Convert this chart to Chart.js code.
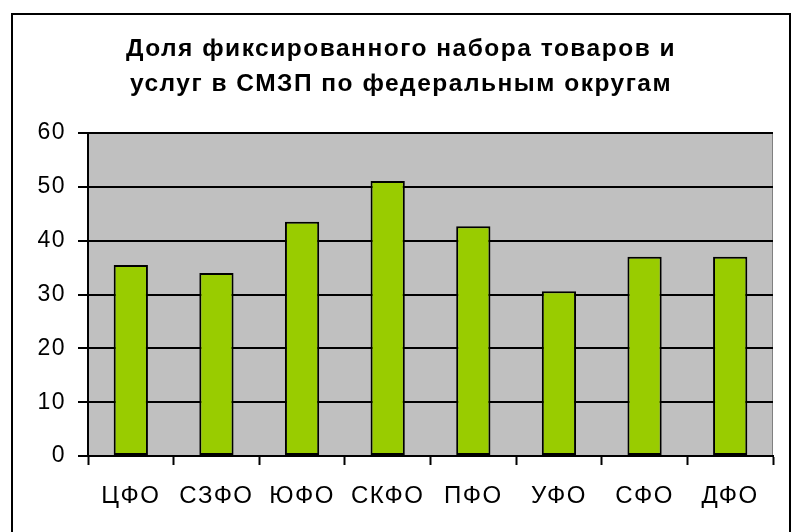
<!DOCTYPE html>
<html>
<head>
<meta charset="utf-8">
<script src="https://cdn.jsdelivr.net/npm/chart.js@4/dist/chart.umd.min.js"></script>
<style>
  html, body { margin: 0; padding: 0; background: #fff; }
  #wrap { width: 797px; height: 532px; }
</style>
</head>
<body>
<div id="wrap"><canvas id="chart" width="797" height="532"></canvas></div>
<script>
// --- Datos ---
const titleLines = ['Доля фиксированного набора товаров и', 'услуг в СМЗП по федеральным округам'];
const districts = ['ЦФО', 'СЗФО', 'ЮФО', 'СКФО', 'ПФО', 'УФО', 'СФО', 'ДФО'];
const shares = [35.5, 34.0, 43.5, 51.1, 42.7, 30.6, 37.0, 37.0];

const FONT = "'Liberation Sans', Arial, sans-serif";

// Fondo gris del área del gráfico + marco exterior
const frame = {
    id: 'frame',
    beforeDraw(chart) {
        const { ctx, chartArea: a } = chart;
        // el texto del original es algo más ancho: espaciado entre letras
        ctx.letterSpacing = '1.5px';
        ctx.save();
        ctx.fillStyle = '#c0c0c0';
        ctx.fillRect(a.left, a.top, a.right - a.left, a.bottom - a.top);
        ctx.strokeStyle = '#808080';
        ctx.lineWidth = 1;
        ctx.beginPath();
        ctx.moveTo(a.left, a.top + 0.5);
        ctx.lineTo(a.right - 0.5, a.top + 0.5);
        ctx.lineTo(a.right - 0.5, a.bottom);
        ctx.stroke();
        ctx.restore();
    },
    afterDraw(chart) {
        const { ctx } = chart;
        ctx.save();
        ctx.strokeStyle = '#000';
        ctx.lineWidth = 2;
        ctx.strokeRect(12, 14, 778, 530);
        ctx.restore();
    }
};

new Chart(document.getElementById('chart'), {
    type: 'bar',
    data: {
        labels: districts,
        datasets: [{
            data: shares,
            backgroundColor: '#99cc00',
            borderColor: '#000',
            borderWidth: 2,
            borderSkipped: false,
            barPercentage: 0.4,
            categoryPercentage: 1
        }]
    },
    options: {
        responsive: false,
        animation: false,
        // izquierda/derecha desiguales para centrar el título sobre el marco
        layout: { padding: { left: 29, right: 24, top: 0, bottom: 0 } },
        plugins: {
            legend: { display: false },
            tooltip: { enabled: false },
            title: {
                display: true,
                text: titleLines,
                color: '#000',
                font: { family: FONT, size: 24.5, weight: 'bold', lineHeight: 35 / 24.5 },
                padding: { top: 32, bottom: 31 }
            }
        },
        scales: {
            x: {
                afterFit: (s) => { s.height = 76; },
                grid: {
                    offset: true,
                    drawOnChartArea: false,
                    drawTicks: true,
                    tickLength: 9,
                    tickColor: '#000',
                    tickWidth: 2
                },
                border: { color: '#000', width: 2 },
                ticks: {
                    color: '#000',
                    padding: 17,
                    font: { family: FONT, size: 24 }
                }
            },
            y: {
                min: 0,
                max: 60,
                afterFit: (s) => { s.width = 59; },
                grid: {
                    color: '#000',
                    lineWidth: 2,
                    tickLength: 10,
                    tickColor: '#000',
                    tickWidth: 2
                },
                border: { color: '#000', width: 2 },
                ticks: {
                    stepSize: 10,
                    color: '#000',
                    padding: 12,
                    font: { family: FONT, size: 23 }
                }
            }
        }
    },
    plugins: [frame]
});
</script>
</body>
</html>
